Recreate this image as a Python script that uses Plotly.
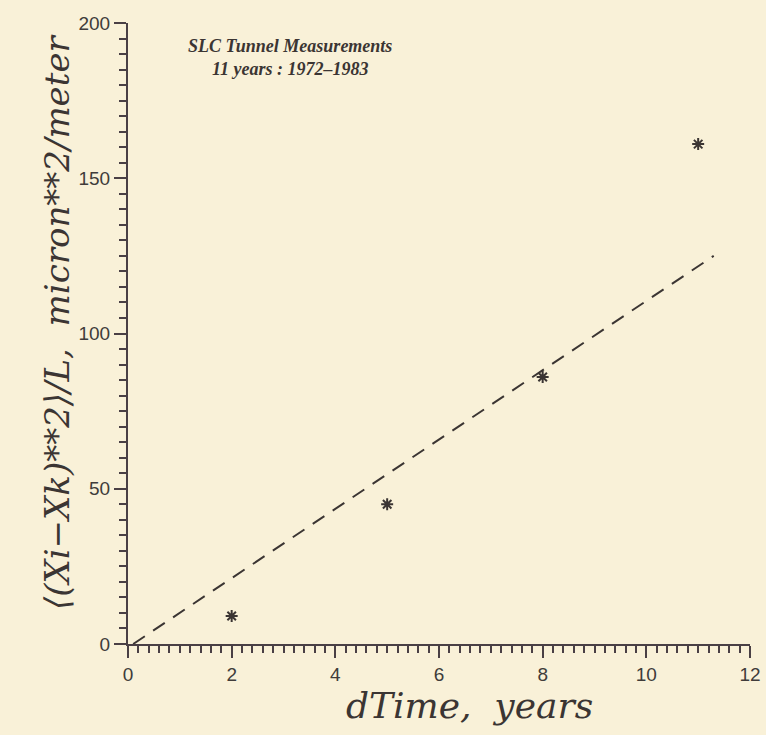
import plotly.graph_objects as go

# Data
dtime_years = [2, 5, 8, 11]
dispersion = [9, 45, 86, 161]
fit_x = [0.1, 11.3]
fit_y = [0, 125]

x_ticks = [0, 2, 4, 6, 8, 10, 12]
y_ticks = [0, 50, 100, 150, 200]

ink = "#3b3533"
axis_ink = "#4a4045"
paper = "#f9f1d8"

W, H = 766, 735
L, R, T, B = 128, 16, 23, 91
plot_left, plot_right = L, W - R
plot_w = plot_right - plot_left
plot_h = H - T - B


def px_x(px):
    return (px - plot_left) / plot_w


def px_y(py):
    return (H - B - py) / plot_h


fig = go.Figure()
fig.add_trace(go.Scatter(
    x=fit_x, y=fit_y, mode="lines",
    line=dict(color=ink, width=2, dash="14px,10px"),
    showlegend=False, hoverinfo="skip"))
fig.add_trace(go.Scatter(
    x=dtime_years, y=dispersion, mode="markers",
    marker=dict(symbol="asterisk-open", size=10, color=ink,
                line=dict(color=ink, width=2)),
    cliponaxis=False, showlegend=False))

axis_common = dict(
    showgrid=False, zeroline=False, showline=True, linecolor=axis_ink,
    linewidth=2, ticks="outside", ticklen=12, tickwidth=2, tickcolor=axis_ink,
    tickfont=dict(family="Liberation Sans, Arial, sans-serif", size=19, color="#403c3a"),
    automargin=False, ticklabeloverflow="allow",
)

fig.update_xaxes(range=[0, 12], tickvals=x_ticks,
                 minor=dict(dtick=0.2, ticklen=7, tickwidth=1.5, tickcolor=axis_ink, ticks="outside"),
                 **axis_common)
fig.update_yaxes(range=[0, 200], tickvals=y_ticks,
                 minor=dict(dtick=5, ticklen=7, tickwidth=1.5, tickcolor=axis_ink, ticks="outside"),
                 **axis_common)

# chart title (two lines)
fig.add_annotation(
    x=px_x(290), y=px_y(57), xref="paper", yref="paper", xanchor="center", yanchor="middle",
    text="SLC Tunnel Measurements<br>11 years : 1972\u20131983", showarrow=False,
    font=dict(family="Liberation Serif, serif", size=18, color=ink, weight="bold", style="italic"),
    align="center")

# x-axis title
fig.add_annotation(
    x=px_x(470), y=px_y(705), xref="paper", yref="paper", xanchor="center", yanchor="middle",
    text="dTime,  years", showarrow=False,
    font=dict(family="DejaVu Serif, serif", size=36, color=ink, style="italic"))

# y-axis title
fig.add_annotation(
    x=px_x(57), y=px_y(322), xref="paper", yref="paper", xanchor="center", yanchor="middle",
    text="\u27e8(Xi\u2212Xk)**2\u27e9/L,  micron**2/meter", textangle=-90, showarrow=False,
    font=dict(family="DejaVu Serif, serif", size=34, color=ink, style="italic"))

fig.update_layout(
    width=W, height=H,
    margin=dict(l=L, r=R, t=T, b=B),
    paper_bgcolor=paper, plot_bgcolor=paper,
)

fig.write_html(
    "out.html",
    config={"displayModeBar": False},
    post_script="document.body.style.margin='0';document.body.style.background='" + paper + "';",
)
